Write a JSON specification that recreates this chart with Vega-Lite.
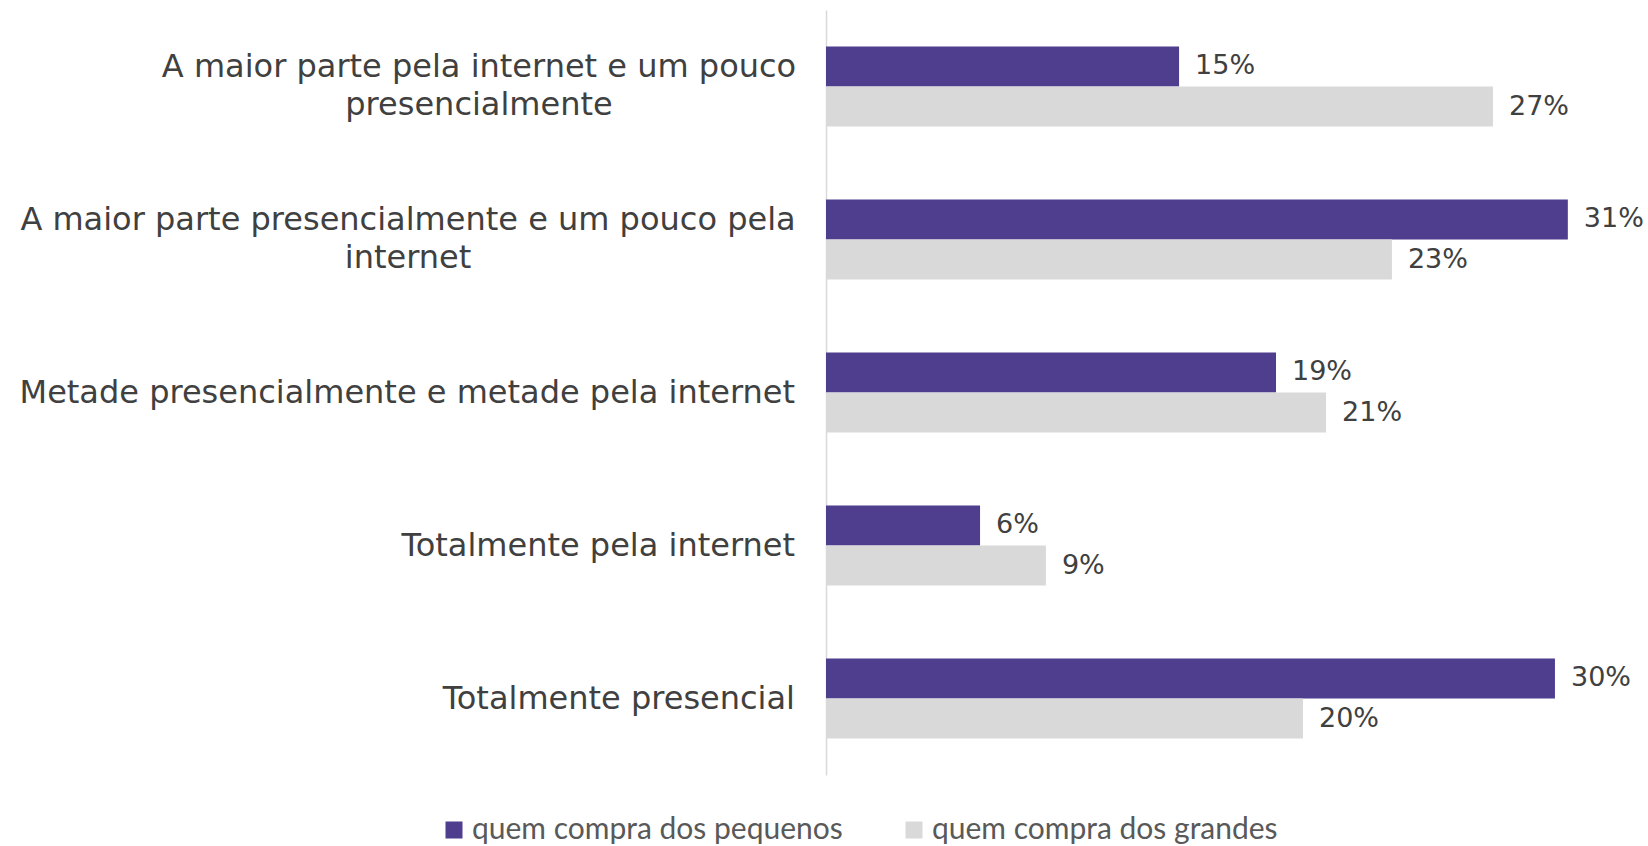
{
  "$schema": "https://vega.github.io/schema/vega-lite/v6.json",
  "width": 814,
  "height": 765,
  "autosize": {"type": "none"},
  "padding": {"left": 826, "top": 10, "right": 8, "bottom": 71},
  "data": {
    "values": [
      {"categoria": "A maior parte pela internet e um pouco presencialmente", "grupo": "quem compra dos pequenos", "valor": 0.1453},
      {"categoria": "A maior parte pela internet e um pouco presencialmente", "grupo": "quem compra dos grandes", "valor": 0.2745},
      {"categoria": "A maior parte presencialmente e um pouco pela internet", "grupo": "quem compra dos pequenos", "valor": 0.3053},
      {"categoria": "A maior parte presencialmente e um pouco pela internet", "grupo": "quem compra dos grandes", "valor": 0.2329},
      {"categoria": "Metade presencialmente e metade pela internet", "grupo": "quem compra dos pequenos", "valor": 0.1852},
      {"categoria": "Metade presencialmente e metade pela internet", "grupo": "quem compra dos grandes", "valor": 0.2058},
      {"categoria": "Totalmente pela internet", "grupo": "quem compra dos pequenos", "valor": 0.0634},
      {"categoria": "Totalmente pela internet", "grupo": "quem compra dos grandes", "valor": 0.0905},
      {"categoria": "Totalmente presencial", "grupo": "quem compra dos pequenos", "valor": 0.30},
      {"categoria": "Totalmente presencial", "grupo": "quem compra dos grandes", "valor": 0.1963}
    ]
  },
  "encoding": {
    "y": {
      "field": "categoria",
      "type": "nominal",
      "sort": null,
      "scale": {"paddingInner": 0.477, "paddingOuter": 0.2385},
      "axis": {
        "title": null,
        "ticks": false,
        "labels": false,
        "domainColor": "#D9D9D9",
        "domainWidth": 1.5
      }
    },
    "x": {"field": "valor", "type": "quantitative", "scale": {"domain": [0, 0.335]}, "axis": null}
  },
  "layer": [
    {
      "mark": {"type": "bar"},
      "encoding": {
        "yOffset": {"field": "grupo", "sort": ["quem compra dos pequenos", "quem compra dos grandes"]},
        "color": {
          "field": "grupo",
          "type": "nominal",
          "sort": ["quem compra dos pequenos", "quem compra dos grandes"],
          "scale": {"domain": ["quem compra dos pequenos", "quem compra dos grandes"], "range": ["#4F3D8E", "#D9D9D9"]},
          "legend": {
            "title": null,
            "orient": "none",
            "legendX": -387,
            "legendY": 805,
            "direction": "horizontal",
            "symbolType": "square",
            "symbolSize": 289,
            "symbolStrokeWidth": 0,
            "labelFont": "Lato",
            "labelFontSize": 30,
            "labelColor": "#595959",
            "labelOffset": 3,
            "columnPadding": 56,
            "padding": 0,
            "labelLimit": 0
          }
        }
      }
    },
    {
      "mark": {"type": "text", "align": "left", "baseline": "middle", "dx": 16, "font": "DejaVu Sans", "fontSize": 27, "color": "#404040"},
      "encoding": {
        "yOffset": {"field": "grupo", "sort": ["quem compra dos pequenos", "quem compra dos grandes"]},
        "text": {"field": "valor", "type": "quantitative", "format": ".0%"}
      }
    },
    {
      "transform": [
        {"filter": "datum.grupo == 'quem compra dos pequenos' && indexof(datum.categoria, 'A maior parte') != 0"}
      ],
      "mark": {"type": "text", "align": "right", "baseline": "middle", "dx": -31, "font": "DejaVu Sans", "fontSize": 32, "color": "#404040"},
      "encoding": {
        "x": {"datum": 0, "type": "quantitative"},
        "text": {"field": "categoria"}
      }
    },
    {
      "transform": [
        {"filter": "datum.grupo == 'quem compra dos pequenos' && datum.categoria == 'A maior parte pela internet e um pouco presencialmente'"},
        {"calculate": "['A maior parte pela internet e um pouco', 'presencialmente']", "as": "rotulo"}
      ],
      "mark": {"type": "text", "align": "center", "baseline": "middle", "dx": -347, "dy": -20, "lineHeight": 38, "font": "DejaVu Sans", "fontSize": 32, "color": "#404040"},
      "encoding": {
        "x": {"datum": 0, "type": "quantitative"},
        "text": {"field": "rotulo"}
      }
    },
    {
      "transform": [
        {"filter": "datum.grupo == 'quem compra dos pequenos' && datum.categoria == 'A maior parte presencialmente e um pouco pela internet'"},
        {"calculate": "['A maior parte presencialmente e um pouco pela', 'internet']", "as": "rotulo"}
      ],
      "mark": {"type": "text", "align": "center", "baseline": "middle", "dx": -418, "dy": -20, "lineHeight": 38, "font": "DejaVu Sans", "fontSize": 32, "color": "#404040"},
      "encoding": {
        "x": {"datum": 0, "type": "quantitative"},
        "text": {"field": "rotulo"}
      }
    }
  ],
  "config": {"view": {"stroke": null}}
}
